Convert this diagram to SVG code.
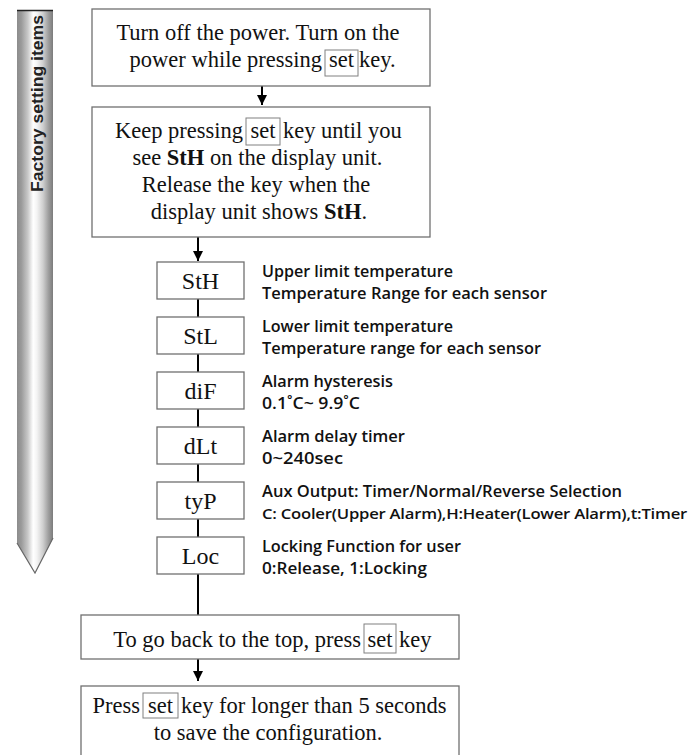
<svg xmlns="http://www.w3.org/2000/svg" width="694" height="755" viewBox="0 0 694 755">
<style>
.box{fill:#fff;stroke:#707070;stroke-width:1.3}
.key{fill:none;stroke:#808080;stroke-width:1}
.t{font-family:"Liberation Serif","Times New Roman",serif;font-size:22.5px;fill:#111}
.lbl{font-family:"Liberation Serif","Times New Roman",serif;font-size:24px;fill:#111;text-anchor:middle}
.d{font-family:"Open Sans","Liberation Sans",sans-serif;font-size:17px;font-weight:600;fill:#111}
.c{text-anchor:middle}
.e{text-anchor:end}
.ln{stroke:#000;stroke-width:2;fill:none}
</style>
<defs>
<linearGradient id="bar" x1="0" y1="0" x2="1" y2="0">
<stop offset="0" stop-color="#8c8c8c"/>
<stop offset="0.12" stop-color="#9a9a9a"/>
<stop offset="0.3" stop-color="#c8c8c8"/>
<stop offset="0.45" stop-color="#ffffff"/>
<stop offset="0.55" stop-color="#f4f4f4"/>
<stop offset="0.72" stop-color="#cfcfcf"/>
<stop offset="0.88" stop-color="#9c9c9c"/>
<stop offset="1" stop-color="#7c7c7c"/>
</linearGradient>
<marker id="ah" viewBox="0 0 10 10" refX="10" refY="5" markerWidth="5" markerHeight="5" orient="auto" markerUnits="strokeWidth">
<path d="M0,0 L10,5 L0,10 Z" fill="#000"/>
</marker>
</defs>

<g id="side-bar">
<path d="M17,10 H53 V538 L35,573 L17,543 Z" fill="url(#bar)"/>
<line x1="17" y1="10.5" x2="53" y2="10.5" stroke="#222" stroke-width="1.5"/>
<path d="M17,543 L35,573 L53,538" fill="none" stroke="#666" stroke-width="1.2"/>
<text transform="translate(43,103.5) rotate(-90)" text-anchor="middle" font-family="Liberation Sans, Arial, sans-serif" font-size="16" font-weight="bold" fill="#222" textLength="177" lengthAdjust="spacingAndGlyphs">Factory setting items</text>
</g>

<g id="connectors">
<line class="ln" x1="262" y1="86" x2="262" y2="105" marker-end="url(#ah)"/>
<line class="ln" x1="198" y1="237" x2="198" y2="261" marker-end="url(#ah)"/>
<line class="ln" x1="198" y1="299" x2="198" y2="317"/>
<line class="ln" x1="198" y1="354" x2="198" y2="372"/>
<line class="ln" x1="198" y1="409" x2="198" y2="427"/>
<line class="ln" x1="198" y1="464" x2="198" y2="482"/>
<line class="ln" x1="198" y1="519" x2="198" y2="537"/>
<line class="ln" x1="198" y1="574" x2="198" y2="615"/>
<line class="ln" x1="198" y1="659" x2="198" y2="681" marker-end="url(#ah)"/>
</g>

<g id="step1">
<rect class="box" x="92" y="9" width="338" height="77"/>
<text class="t c" x="258" y="40">Turn off the power. Turn on the</text>
<text class="t e" x="322" y="67">power while pressing</text>
<rect class="key" x="325" y="50" width="33" height="26"/>
<text class="t c" x="341.5" y="67">set</text>
<text class="t" x="359" y="67">key.</text>
</g>

<g id="step2">
<rect class="box" x="92" y="107" width="338" height="130"/>
<text class="t e" x="243" y="138">Keep pressing</text>
<rect class="key" x="246" y="118" width="34" height="27"/>
<text class="t c" x="263" y="138">set</text>
<text class="t" x="283" y="138">key until you</text>
<text class="t c" x="257.5" y="165">see <tspan font-weight="bold">StH</tspan> on the display unit.</text>
<text class="t c" x="256" y="192">Release the key when the</text>
<text class="t c" x="259" y="219">display unit shows <tspan font-weight="bold">StH</tspan>.</text>
</g>

<g id="StH">
<rect class="box" x="157" y="262" width="87" height="37"/>
<text class="lbl" x="200.5" y="288.5">StH</text>
<text class="d" x="262" y="277" textLength="191" lengthAdjust="spacingAndGlyphs">Upper limit temperature</text>
<text class="d" x="262" y="299" textLength="285" lengthAdjust="spacingAndGlyphs">Temperature Range for each sensor</text>
</g>

<g id="StL">
<rect class="box" x="157" y="317" width="87" height="37"/>
<text class="lbl" x="200.5" y="343.5">StL</text>
<text class="d" x="262" y="332" textLength="191" lengthAdjust="spacingAndGlyphs">Lower limit temperature</text>
<text class="d" x="262" y="354" textLength="279" lengthAdjust="spacingAndGlyphs">Temperature range for each sensor</text>
</g>

<g id="diF">
<rect class="box" x="157" y="372" width="87" height="37"/>
<text class="lbl" x="200.5" y="398.5">diF</text>
<text class="d" x="262" y="387" textLength="131" lengthAdjust="spacingAndGlyphs">Alarm hysteresis</text>
<text class="d" x="262" y="409" textLength="98" lengthAdjust="spacingAndGlyphs">0.1˚C~ 9.9˚C</text>
</g>

<g id="dLt">
<rect class="box" x="157" y="427" width="87" height="37"/>
<text class="lbl" x="200.5" y="453.5">dLt</text>
<text class="d" x="262" y="442" textLength="143" lengthAdjust="spacingAndGlyphs">Alarm delay timer</text>
<text class="d" x="262" y="464" textLength="81" lengthAdjust="spacingAndGlyphs">0~240sec</text>
</g>

<g id="tyP">
<rect class="box" x="157" y="482" width="87" height="37"/>
<text class="lbl" x="200.5" y="508.5">tyP</text>
<text class="d" x="262" y="497" textLength="360" lengthAdjust="spacingAndGlyphs">Aux Output: Timer/Normal/Reverse Selection</text>
<text class="d" x="262" y="519" style="font-size:15px;letter-spacing:-0.2px" textLength="425" lengthAdjust="spacingAndGlyphs">C: Cooler(Upper Alarm),H:Heater(Lower Alarm),t:Timer</text>
</g>

<g id="Loc">
<rect class="box" x="157" y="537" width="87" height="37"/>
<text class="lbl" x="200.5" y="563.5">Loc</text>
<text class="d" x="262" y="552" textLength="199" lengthAdjust="spacingAndGlyphs">Locking Function for user</text>
<text class="d" x="262" y="574" textLength="165" lengthAdjust="spacingAndGlyphs">0:Release, 1:Locking</text>
</g>

<g id="back-to-top">
<rect class="box" x="81" y="615" width="378" height="44"/>
<text class="t e" x="361" y="647">To go back to the top, press</text>
<rect class="key" x="364" y="624" width="32" height="29"/>
<text class="t c" x="380" y="647">set</text>
<text class="t" x="399" y="647">key</text>
</g>

<g id="save">
<rect class="box" x="81" y="686" width="378" height="75"/>
<text class="t e" x="140" y="713">Press</text>
<rect class="key" x="143" y="693" width="35" height="25"/>
<text class="t c" x="160.5" y="713">set</text>
<text class="t" x="181" y="713">key for longer than 5 seconds</text>
<text class="t c" x="268" y="740">to save the configuration.</text>
</g>
</svg>
